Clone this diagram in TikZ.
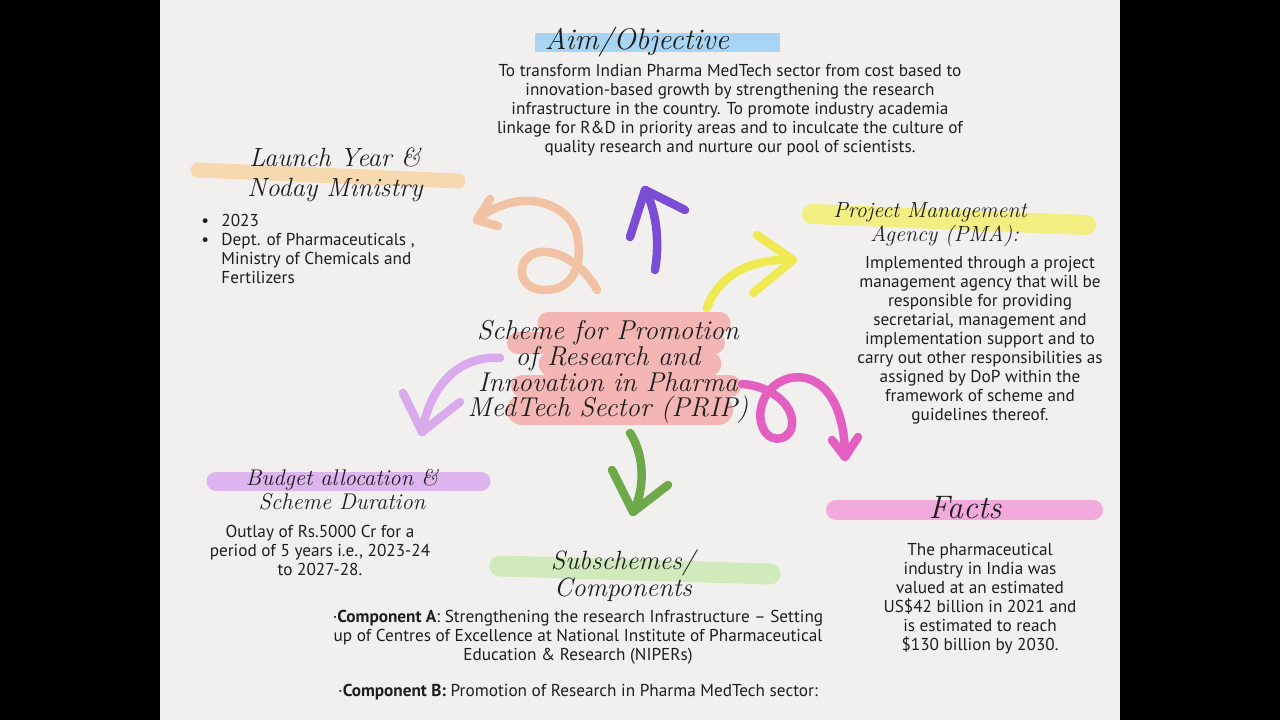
\documentclass[tikz,border=0pt]{standalone}
\usepackage{fontspec}
\newfontfamily\bodyfont{PT Sans}
\definecolor{PrPaper}{HTML}{F1F0EF}
\definecolor{PrInk}{HTML}{1E1E1E}
\definecolor{PrBlue}{HTML}{A9D5F4}
\definecolor{PrPeach}{HTML}{F6D9AF}
\definecolor{PrLemon}{HTML}{F3EE82}
\definecolor{PrRose}{HTML}{F4B6B4}
\definecolor{PrLilac}{HTML}{DDB4EE}
\definecolor{PrMint}{HTML}{D1EABB}
\definecolor{PrPink}{HTML}{F1AADB}
\definecolor{PrArrowPeach}{HTML}{F1C3A4}
\definecolor{PrArrowViolet}{HTML}{7B4DD5}
\definecolor{PrArrowYellow}{HTML}{F0EA52}
\definecolor{PrArrowLilac}{HTML}{D9AAEC}
\definecolor{PrArrowGreen}{HTML}{6DA84B}
\definecolor{PrArrowMagenta}{HTML}{E360C1}
\tikzset{
  pr/marker/.style={
    draw=#1,
    line cap=round,
    line width=0.38cm
  },
  pr/arrow/.style={
    draw=#1,
    line width=0.17cm,
    line cap=round,
    line join=round
  },
  pr/hand/.style n args={2}{
    font=\itshape\fontsize{#1}{#2}\selectfont,
    text=PrInk,
    align=center,
    inner sep=0pt
  },
  pr/body/.style={
    font=\bodyfont\fontsize{9.8}{10.8}\selectfont,
    text=PrInk,
    align=center,
    inner sep=0pt
  }
}
\begin{document}
\begin{tikzpicture}[x=0.2mm,y=-0.2mm]
  \useasboundingbox (0,0) rectangle (1280,720);
  \fill[black] (0,0) rectangle (1280,720);
  \fill[PrPaper] (160,0) rectangle (1120,720);
  % highlighter strokes
  \fill[PrBlue] (535,33) rectangle (780,52);
  \draw[pr/marker=PrPeach,line width=0.3cm] (198,170) -- (458,181);
  \draw[pr/marker=PrLemon,line width=0.4cm] (812,214) -- (1086,225);
  \draw[pr/marker=PrRose,line width=0.42cm] (548,323) -- (720,323);
  \draw[pr/marker=PrRose,line width=0.44cm] (518,343) -- (714,343);
  \draw[pr/marker=PrRose,line width=0.46cm] (550,364) -- (710,364);
  \draw[pr/marker=PrRose,line width=0.44cm] (522,386) -- (730,386);
  \draw[pr/marker=PrRose,line width=0.6cm] (522,410) -- (718,410);
  \draw[pr/marker=PrLilac] (216,481) -- (481,481);
  \draw[pr/marker=PrMint,line width=0.42cm] (500,566) -- (770,574);
  \draw[pr/marker=PrPink,line width=0.4cm] (836,510) -- (1093,510);
  % arrows out of the scheme
  \coordinate (launchtip) at (477,220);
  \coordinate (aimtip) at (645,190);
  \coordinate (pmatip) at (793,260);
  \coordinate (budgettip) at (422,432);
  \coordinate (subtip) at (633,512);
  \coordinate (factstip) at (845,457);
  \draw[pr/arrow=PrArrowPeach] (597,290) .. controls (588,272) and (565,250) .. (540,252)
    .. controls (515,256) and (515,290) .. (545,290)
    .. controls (570,290) and (582,270) .. (578,240)
    .. controls (575,210) and (540,195) .. (510,203)
    .. controls (495,207) and (485,213) .. (launchtip);
  \draw[pr/arrow=PrArrowPeach] (490,199) -- (launchtip) -- (498,226);
  \draw[pr/arrow=PrArrowViolet] (655,270) .. controls (660,240) and (656,210) .. (aimtip);
  \draw[pr/arrow=PrArrowViolet] (630,237) -- (aimtip) -- (685,210);
  \draw[pr/arrow=PrArrowYellow] (707,308) .. controls (720,270) and (760,258) .. (pmatip);
  \draw[pr/arrow=PrArrowYellow] (757,235) -- (pmatip) -- (753,293);
  \draw[pr/arrow=PrArrowLilac] (500,358) .. controls (460,355) and (430,385) .. (budgettip);
  \draw[pr/arrow=PrArrowLilac] (403,393) -- (budgettip) -- (460,402);
  \draw[pr/arrow=PrArrowGreen] (630,433) .. controls (645,455) and (645,490) .. (subtip);
  \draw[pr/arrow=PrArrowGreen] (612,470) -- (subtip) -- (668,485);
  \draw[pr/arrow=PrArrowMagenta] (742,384) .. controls (765,385) and (790,400) .. (792,420)
    .. controls (794,440) and (772,445) .. (764,430)
    .. controls (755,415) and (762,385) .. (790,378)
    .. controls (820,372) and (845,400) .. (factstip);
  \draw[pr/arrow=PrArrowMagenta] (832,440) -- (factstip) -- (858,437);
  % centre
  \node[pr/hand={15.5}{14.7}] (scheme) at (608,372)
    {Scheme for Promotion\\of Research and\\Innovation in Pharma\\MedTech Sector (PRIP)};
  % aim
  \node[pr/hand={17}{20}] (aimhead) at (637,42) {Aim/Objective};
  \node[pr/body] (aimtext) at (730,110)
    {To transform Indian Pharma MedTech sector from cost based to\\
     innovation-based growth by strengthening the research\\
     infrastructure in the country. To promote industry academia\\
     linkage for R\&D in priority areas and to inculcate the culture of\\
     quality research and nurture our pool of scientists.};
  % launch year
  \node[pr/hand={15}{17}] (launchhead) at (335,175) {Launch Year \&\\Noday Ministry};
  \node[pr/body,align=left,anchor=north west] (launchtext) at (201,213)
    {\begin{tabular}{@{}l@{\hspace{7pt}}l@{}}
       \textbullet & 2023\\
       \textbullet & Dept. of Pharmaceuticals ,\\
                   & Ministry of Chemicals and\\
                   & Fertilizers
     \end{tabular}};
  % project management agency
  \node[pr/hand={12.5}{13.6},align=left,anchor=west] (pmahead) at (833,225)
    {Project Management\\\hspace*{0.74cm}Agency (PMA):};
  \node[pr/body] (pmatext) at (980,340)
    {Implemented through a project\\
     management agency that will be\\
     responsible for providing\\
     secretarial, management and\\
     implementation support and to\\
     carry out other responsibilities as\\
     assigned by DoP within the\\
     framework of scheme and\\
     guidelines thereof.};
  % budget
  \node[pr/hand={12.9}{13.6}] (budgethead) at (342,490) {Budget allocation \&\\Scheme Duration};
  \node[pr/body] (budgettext) at (320,550)
    {Outlay of Rs.5000 Cr for a\\period of 5 years i.e., 2023-24\\to 2027-28.};
  % subschemes
  \node[pr/hand={15}{14.2}] (subhead) at (623,576) {Subschemes/\\Components};
  \node[pr/body] (compa) at (578,637)
    {·\textbf{Component A}: Strengthening the research Infrastructure – Setting\\
     up of Centres of Excellence at National Institute of Pharmaceutical\\
     Education \& Research (NIPERs)};
  \node[pr/body] (compb) at (578,692)
    {·\textbf{Component B:} Promotion of Research in Pharma MedTech sector:};
  % facts
  \node[pr/hand={18.5}{20}] (factshead) at (965,508) {Facts};
  \node[pr/body] (factstext) at (980,599)
    {The pharmaceutical\\
     industry in India was\\
     valued at an estimated\\
     US\$42 billion in 2021 and\\
     is estimated to reach\\
     \$130 billion by 2030.};
\end{tikzpicture}
\end{document}
